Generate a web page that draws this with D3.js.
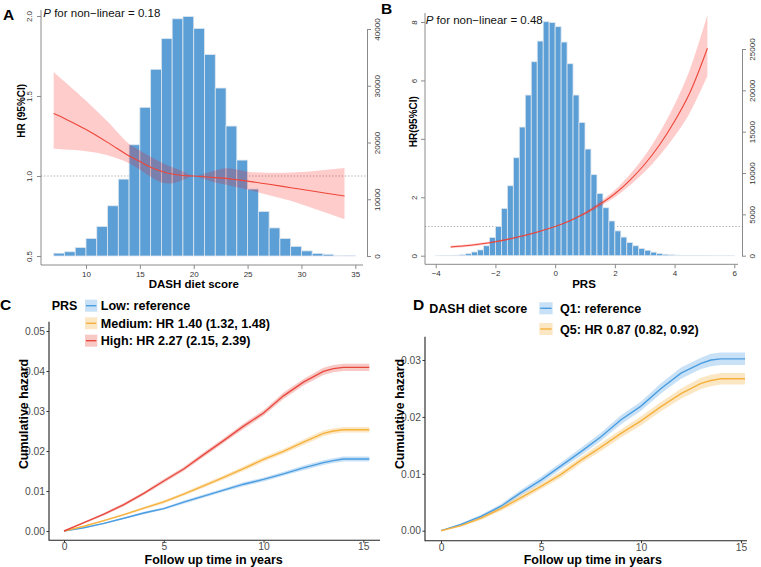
<!DOCTYPE html>
<meta charset="utf-8">
<head>
<style>
body { margin: 0; background: #fff; }
svg { font-family: "Liberation Sans", Arial, Helvetica, sans-serif; }
.base .domain, .base line { stroke: #8a8a8a; }
.base text { fill: #333; font-size: 8px; }
.gg line { stroke: #333; }
.gg text { fill: #4d4d4d; font-size: 10.3px; }
.ttl { font-weight: bold; fill: #000; }
</style>
</head>
<body>
<div id="fig"></div>
<script src="https://d3js.org/d3.v7.min.js"></script>
<script>

// ---- panel A: DASH diet score histogram + spline ----
var aBins = [7,8,9,10,11,12,13,14,15,16,17,18,19,20,21,22,23,24,25,26,27,28,29,30,31,32,33,34];
var aCounts = [500,750,1500,3100,5200,8850,13550,19600,26200,32900,38300,41800,42200,40100,
               35500,29600,22900,16900,11800,7850,4950,3100,1700,900,450,300,100,50];
var aX  = [7,8,10,12,14,15,16,17,18,19,20,21,22,23,24,25,27,29,31,34];
var aHR = [1.39,1.36,1.29,1.21,1.125,1.09,1.055,1.03,1.012,1.003,1.0,0.995,0.99,0.985,0.977,0.968,0.948,0.927,0.906,0.875];
var aLo = [1.17,1.165,1.155,1.13,1.08,1.04,0.995,0.96,0.955,0.975,1.0,0.98,0.96,0.945,0.93,0.915,0.88,0.845,0.80,0.73];
var aHi = [1.65,1.59,1.47,1.34,1.20,1.16,1.12,1.085,1.055,1.03,1.0,1.015,1.035,1.048,1.04,1.027,1.02,1.022,1.03,1.05];

// ---- panel B: PRS histogram + spline ----
var bBins = [-4.0,-3.8,-3.6,-3.4,-3.2,-3.0,-2.8,-2.6,-2.4,-2.2,-2.0,-1.8,-1.6,-1.4,-1.2,-1.0,-0.8,-0.6,-0.4,-0.2,
             0.0,0.2,0.4,0.6,0.8,1.0,1.2,1.4,1.6,1.8,2.0,2.2,2.4,2.6,2.8,3.0,3.2,3.4,3.6,3.8,
             4.0,4.2,4.4,4.6,4.8,5.0,5.2,5.4,5.6,5.8];
var bCounts = [10,20,35,60,120,240,450,700,1200,2200,3540,5720,8460,11850,15560,19430,23460,25960,28300,28200,
               27700,25840,23220,19430,16120,12900,9800,7530,5800,4200,3000,2250,1600,1200,870,660,430,260,170,110,
               70,45,30,20,15,10,8,5,3,2];
var bX  = [-3.5,-3,-2.5,-2,-1.5,-1,-0.5,0,0.5,1,1.5,2,2.5,3,3.5,4,4.5,5.1];
var bHR = [0.30,0.34,0.40,0.48,0.58,0.70,0.84,1.0,1.2,1.45,1.76,2.12,2.58,3.13,3.80,4.6,5.55,7.1];
var bLo = [0.26,0.30,0.36,0.45,0.55,0.67,0.82,0.99,1.18,1.40,1.68,2.0,2.4,2.87,3.43,4.09,4.87,6.15];
var bHi = [0.34,0.38,0.44,0.51,0.61,0.73,0.86,1.01,1.23,1.50,1.85,2.25,2.78,3.42,4.22,5.18,6.34,8.25];

// ---- panels C and D: cumulative hazard ----
var years = [0,1,2,3,4,5,6,7,8,9,10,11,12,13,13.5,14,15.3];
var cLow  = [0,0.0008,0.0019,0.0032,0.0045,0.0056,0.0072,0.0087,0.0102,0.0117,0.0129,0.0143,0.0158,0.0171,0.0176,0.0180,0.0180];
var cMed  = [0,0.0012,0.0026,0.0041,0.0057,0.0073,0.0092,0.0113,0.0134,0.0156,0.0179,0.0199,0.0222,0.0244,0.0250,0.0253,0.0253];
var cHigh = [0,0.0021,0.0042,0.0066,0.0094,0.0125,0.0155,0.0191,0.0226,0.0262,0.0295,0.0338,0.0372,0.0399,0.0406,0.0409,0.0409];
var cLowCI  = [0,0.0001,0.0002,0.0002,0.0003,0.0003,0.0004,0.0004,0.0004,0.0005,0.0005,0.0005,0.0006,0.0006,0.0006,0.0006,0.0006];
var cMedCI  = [0,0.0001,0.0002,0.0003,0.0003,0.0004,0.0004,0.0005,0.0005,0.0006,0.0006,0.0006,0.0007,0.0007,0.0007,0.0007,0.0007];
var cHighCI = [0,0.0002,0.0003,0.0004,0.0004,0.0005,0.0005,0.0006,0.0006,0.0007,0.0007,0.0008,0.0008,0.0009,0.0009,0.0009,0.0009];
var cLabels = ["Low: reference", "Medium: HR 1.40 (1.32, 1.48)", "High: HR 2.27 (2.15, 2.39)"];

var dYears = [0,1,2,3,4,5,6,7,8,9,10,11,12,13,13.5,14,15.2];
var dQ1 = [0,0.0011,0.0025,0.0043,0.0067,0.0089,0.0114,0.0139,0.0165,0.0195,0.0219,0.0250,0.0277,0.0294,0.0300,0.0302,0.0302];
var dQ5 = [0,0.0009,0.0022,0.0039,0.0058,0.0078,0.0099,0.0124,0.0147,0.0171,0.0193,0.0218,0.0241,0.0259,0.0264,0.0267,0.0267];
var dQ1CI = [0,0.0002,0.0003,0.0004,0.0005,0.0006,0.0006,0.0007,0.0007,0.0008,0.0008,0.0009,0.0010,0.0010,0.0011,0.0011,0.0011];
var dQ5CI = [0,0.0002,0.0003,0.0004,0.0005,0.0005,0.0006,0.0006,0.0007,0.0007,0.0008,0.0008,0.0009,0.0010,0.0010,0.0010,0.0010];
var dLabels = ["Q1: reference", "Q5: HR 0.87 (0.82, 0.92)"];

var blue = "#4a9de0", orange = "#f5b13d", red = "#e8493f";
var bandOf = {};
bandOf[blue] = "rgba(74,157,224,0.3)";
bandOf[orange] = "rgba(245,177,61,0.3)";
bandOf[red] = "rgba(232,73,63,0.3)";

var svg = d3.select("#fig").append("svg").attr("width", 761).attr("height", 567);

// panel letters
[["A",3,19.5],["B",381,14],["C",0,309.5],["D",413,309.5]].forEach(function(p){
  svg.append("text").attr("class","ttl").attr("x",p[1]).attr("y",p[2])
    .style("font-size","15.5px").text(p[0]);
});

// generic spline + histogram panel (base R look)
function splinePanel(o){
  var g = svg.append("g");
  // reference line HR = 1
  g.append("line").attr("x1",o.box[0]).attr("x2",o.rightAxisX)
    .attr("y1",o.y(1)).attr("y2",o.y(1))
    .attr("stroke","#9a9a9a").attr("stroke-width",0.9).attr("stroke-dasharray","1.2,2");

  g.selectAll("rect.bar").data(o.counts).enter().append("rect")
    .attr("class","bar")
    .attr("x", function(d,i){ return o.x(o.bins[i]); })
    .attr("width", function(d,i){ return o.x(o.bins[i] + o.binW) - o.x(o.bins[i]); })
    .attr("y", function(d){ return o.n(d); })
    .attr("height", function(d){ return o.n(0) - o.n(d); })
    .attr("fill","#5b9fd6").attr("stroke","#dfe7ef").attr("stroke-width",0.8);

  var idx = d3.range(o.cx.length);
  var band = d3.area().curve(d3.curveCatmullRom)
    .x(function(i){ return o.x(o.cx[i]); })
    .y0(function(i){ return o.y(o.lo[i]); })
    .y1(function(i){ return o.y(o.hi[i]); });
  g.append("path").attr("d", band(idx)).attr("fill","rgba(255,0,0,0.2)");
  var ln = d3.line().curve(d3.curveCatmullRom)
    .x(function(i){ return o.x(o.cx[i]); })
    .y(function(i){ return o.y(o.hr[i]); });
  g.append("path").attr("d", ln(idx)).attr("fill","none").attr("stroke","#ee4538").attr("stroke-width",1.1);

  // L-shaped box
  g.append("path").attr("d","M"+o.box[0]+","+o.box[1]+"V"+o.box[3]+"H"+o.box[2])
    .attr("fill","none").attr("stroke","#8a8a8a").attr("stroke-width",1);

  var axL = g.append("g").attr("class","base").attr("transform","translate("+o.box[0]+",0)")
    .call(d3.axisLeft(o.y).tickValues(o.yTicks).tickFormat(o.yFmt).tickSize(4).tickSizeOuter(0));
  axL.select(".domain").remove();
  axL.selectAll("text").attr("transform","rotate(-90)").attr("x",0).attr("y",-o.leftLab)
    .attr("dy",0).attr("text-anchor","middle");

  var axR = g.append("g").attr("class","base").attr("transform","translate("+o.rightAxisX+",0)")
    .call(d3.axisRight(o.n).tickValues(o.nTicks).tickFormat(d3.format("d")).tickSize(4).tickSizeOuter(0));
  axR.selectAll("text").attr("transform","rotate(-90)").attr("x",0).attr("y",13)
    .attr("dy",0).attr("text-anchor","middle");

  var axB = g.append("g").attr("class","base").attr("transform","translate(0,"+o.box[3]+")")
    .call(d3.axisBottom(o.x).tickValues(o.xTicks).tickSize(4).tickPadding(2.5));
  axB.select(".domain").remove();

  g.append("text").attr("class","ttl").attr("x",o.xLab[0]).attr("y",o.xLab[1])
    .attr("text-anchor","middle").style("font-size","11.5px").text(o.xTitle);
  g.append("text").attr("class","ttl")
    .attr("transform","translate("+o.yLab[0]+","+o.yLab[1]+") rotate(-90)")
    .attr("text-anchor","middle").style("font-size","10px").text(o.yTitle);

  var p = g.append("text").attr("x",o.pPos[0]).attr("y",o.pPos[1]).style("font-size","11.5px").attr("fill","#111");
  p.append("tspan").style("font-style","italic").text("P");
  p.append("tspan").text(" for non\u2212linear = " + o.pVal);
}

splinePanel({
  x: d3.scaleLinear().domain([10,35]).range([86,355.3]),
  y: d3.scaleLinear().domain([0.5,2]).range([256,16]),
  n: d3.scaleLinear().domain([0,40000]).range([256,29]),
  bins: aBins, counts: aCounts, binW: 1,
  cx: aX, hr: aHR, lo: aLo, hi: aHi,
  box: [41,10,363,265], rightAxisX: 367,
  yTicks: [0.5,1,1.5,2], yFmt: d3.format(".1f"), leftLab: 9.5,
  nTicks: [0,10000,20000,30000,40000],
  xTicks: [10,15,20,25,30,35],
  xTitle: "DASH diet score", xLab: [193.8,288.3],
  yTitle: "HR (95%CI)", yLab: [25,110.8],
  pPos: [43.3,17.3], pVal: "0.18"
});

splinePanel({
  x: d3.scaleLinear().domain([-4,6]).range([435.7,734.3]),
  y: d3.scaleLinear().domain([0,8]).range([255.7,22]),
  n: d3.scaleLinear().domain([0,25000]).range([255.7,49]),
  bins: bBins, counts: bCounts, binW: 0.2,
  cx: bX, hr: bHR, lo: bLo, hi: bHi,
  box: [425,13,738,264.3], rightAxisX: 742,
  yTicks: [0,2,4,6,8], yFmt: d3.format("d"), leftLab: 8,
  nTicks: [0,5000,10000,15000,20000,25000],
  xTicks: [-4,-2,0,2,4,6],
  xTitle: "PRS", xLab: [584,288.3],
  yTitle: "HR(95%CI)", yLab: [416.7,121.7],
  pPos: [425.7,23.5], pVal: "0.48"
});

// cumulative hazard panel (ggplot look)
function hazardPanel(o){
  var g = svg.append("g");
  o.series.forEach(function(s){
    var idx = d3.range(o.t.length);
    g.append("path").attr("fill", bandOf[s.col])
      .attr("d", d3.area()
        .x(function(i){ return o.x(o.t[i]); })
        .y0(function(i){ return o.y(s.v[i] - s.ci[i]); })
        .y1(function(i){ return o.y(s.v[i] + s.ci[i]); })(idx));
  });
  o.series.forEach(function(s){
    var idx = d3.range(o.t.length);
    g.append("path").attr("fill","none").attr("stroke", s.col).attr("stroke-width",1.4)
      .attr("d", d3.line()
        .x(function(i){ return o.x(o.t[i]); })
        .y(function(i){ return o.y(s.v[i]); })(idx));
  });

  g.append("path").attr("d","M"+o.box[0]+","+o.box[1]+"V"+o.box[3]+"H"+o.box[2])
    .attr("fill","none").attr("stroke","#222").attr("stroke-width",1.1);

  var axL = g.append("g").attr("class","gg").attr("transform","translate("+o.box[0]+",0)")
    .call(d3.axisLeft(o.y).tickValues(o.yTicks).tickFormat(d3.format(".2f")).tickSize(2.5).tickPadding(1.5));
  axL.select(".domain").remove();
  var axB = g.append("g").attr("class","gg").attr("transform","translate(0,"+o.box[3]+")")
    .call(d3.axisBottom(o.x).tickValues([0,5,10,15]).tickSize(2.5).tickPadding(0));
  axB.select(".domain").remove();

  g.append("text").attr("class","ttl").attr("x",o.xLab[0]).attr("y",564)
    .attr("text-anchor","middle").style("font-size","12.5px").text("Follow up time in years");
  g.append("text").attr("class","ttl")
    .attr("transform","translate("+o.yLab[0]+",414) rotate(-90)")
    .attr("text-anchor","middle").style("font-size","12.4px").text("Cumulative hazard");

  // legend
  g.append("text").attr("class","ttl").attr("x",o.leg.title[0]).attr("y",o.leg.title[1])
    .style("font-size","12.5px").text(o.leg.name);
  o.series.forEach(function(s,i){
    var cy = o.leg.rows[i];
    g.append("rect").attr("x",o.leg.kx).attr("y",cy-6).attr("width",o.leg.kw).attr("height",12)
      .attr("fill", bandOf[s.col]);
    g.append("line").attr("x1",o.leg.kx+1).attr("x2",o.leg.kx+o.leg.kw-1).attr("y1",cy).attr("y2",cy)
      .attr("stroke", s.col).attr("stroke-width",1.4);
    g.append("text").attr("class","ttl").attr("x",o.leg.tx).attr("y",cy+4.5)
      .style("font-size","12.6px").text(s.label);
  });
}

hazardPanel({
  x: d3.scaleLinear().domain([0,15]).range([64,363.3]),
  y: d3.scaleLinear().domain([0,0.05]).range([531,331]),
  t: years,
  series: [
    {v: cLow,  ci: cLowCI,  col: blue,   label: cLabels[0]},
    {v: cMed,  ci: cMedCI,  col: orange, label: cLabels[1]},
    {v: cHigh, ci: cHighCI, col: red,    label: cLabels[2]}
  ],
  box: [49,321.7,380,540.3],
  yTicks: [0,0.01,0.02,0.03,0.04,0.05],
  xLab: [213.7], yLab: [27.5],
  leg: {name: "PRS", title: [51.7,309.5], kx: 85, kw: 12.3, tx: 100.7, rows: [305.7,323.3,340.7]}
});

hazardPanel({
  x: d3.scaleLinear().domain([0,15]).range([441,741]),
  y: d3.scaleLinear().domain([0,0.03]).range([530.7,360]),
  t: dYears,
  series: [
    {v: dQ1, ci: dQ1CI, col: blue,   label: dLabels[0]},
    {v: dQ5, ci: dQ5CI, col: orange, label: dLabels[1]}
  ],
  box: [425,336.7,747,540.7],
  yTicks: [0,0.01,0.02,0.03],
  xLab: [592.8], yLab: [403.5],
  leg: {name: "DASH diet score", title: [429.3,312.7], kx: 539.3, kw: 13.3, tx: 560, rows: [308.3,329]}
});

</script>
</body>
</html>
